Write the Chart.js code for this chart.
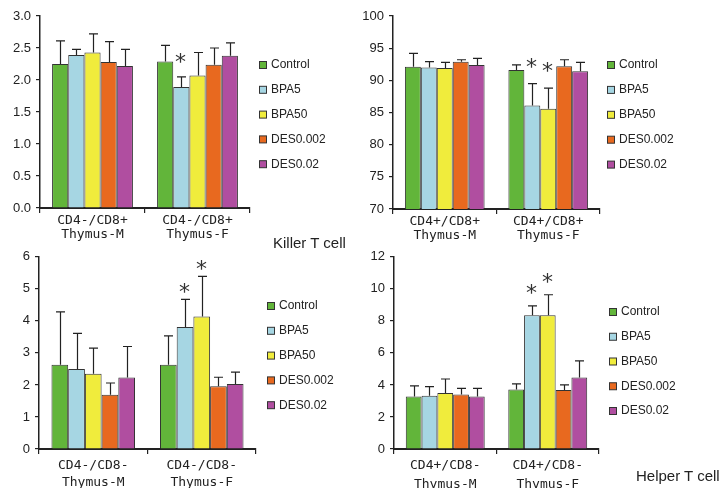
<!DOCTYPE html>
<html>
<head>
<meta charset="utf-8">
<script src="https://cdn.jsdelivr.net/npm/chart.js@4/dist/chart.umd.min.js"></script>
<style>
  body { margin: 0; background: #fff; }
  #wrap { position: relative; width: 724px; height: 488px; overflow: hidden; }
  #wrap canvas { position: absolute; }
  .cell { position: absolute; font: 15px 'Liberation Sans', Arial, sans-serif; color: #222; white-space: nowrap; }
</style>
</head>
<body>
<div id="wrap">
  <canvas id="c1" width="362" height="244" style="left:0;top:0"></canvas>
  <canvas id="c2" width="362" height="244" style="left:362px;top:0"></canvas>
  <canvas id="c3" width="362" height="244" style="left:0;top:244px"></canvas>
  <canvas id="c4" width="362" height="244" style="left:362px;top:244px"></canvas>
  <div class="cell" style="left:273px;top:234px">Killer T cell</div>
  <div class="cell" style="left:636px;top:467px">Helper T cell</div>
</div>
<script>
// treatment groups and their bar colours
const groups = ['Control', 'BPA5', 'BPA50', 'DES0.002', 'DES0.02'];
const groupColors = ['#62b53a', '#a6d6e3', '#f0ec3c', '#e8691f', '#b04ea0'];

// x categories for each panel
const catKillerNeg = [['CD4-/CD8+', 'Thymus-M'], ['CD4-/CD8+', 'Thymus-F']];
const catKillerPos = [['CD4+/CD8+', 'Thymus-M'], ['CD4+/CD8+', 'Thymus-F']];
const catHelperNeg = [['CD4-/CD8-', 'Thymus-M'], ['CD4-/CD8-', 'Thymus-F']];
const catHelperPos = [['CD4+/CD8-', 'Thymus-M'], ['CD4+/CD8-', 'Thymus-F']];

// means (one row per group: [Thymus-M, Thymus-F]), SDs and significance flags
const killerNegMean = [[2.25, 2.29], [2.39, 1.89], [2.43, 2.07], [2.28, 2.24], [2.22, 2.38]];
const killerNegSD   = [[0.36, 0.25], [0.09, 0.16], [0.29, 0.36], [0.32, 0.26], [0.26, 0.20]];
const killerNegSig  = [[0, 0], [0, 1], [0, 0], [0, 0], [0, 0]];

const killerPosMean = [[92.1, 91.6], [92.0, 86.1], [91.9, 85.6], [92.9, 92.2], [92.4, 91.4]];
const killerPosSD   = [[2.1, 0.8], [0.9, 3.4], [0.9, 3.2], [0.3, 1.0], [1.0, 1.4]];
const killerPosSig  = [[0, 0], [0, 1], [0, 1], [0, 0], [0, 0]];

const helperNegMean = [[2.63, 2.63], [2.50, 3.81], [2.35, 4.14], [1.69, 1.96], [2.23, 2.03]];
const helperNegSD   = [[1.65, 0.90], [1.11, 0.86], [0.80, 1.25], [0.37, 0.28], [0.97, 0.37]];
const helperNegSig  = [[0, 0], [0, 1], [0, 1], [0, 0], [0, 0]];

const helperPosMean = [[3.28, 3.71], [3.32, 8.35], [3.50, 8.35], [3.40, 3.69], [3.28, 4.47]];
const helperPosSD   = [[0.66, 0.35], [0.58, 0.58], [0.87, 1.28], [0.39, 0.31], [0.51, 1.03]];
const helperPosSig  = [[0, 0], [0, 1], [0, 1], [0, 0], [0, 0]];

// y tick ranges
const killerNegTicks = { min: 0, max: 3, step: 0.5, digits: 1 };
const killerPosTicks = { min: 70, max: 100, step: 5, digits: 0 };
const helperNegTicks = { min: 0, max: 6, step: 1, digits: 0 };
const helperPosTicks = { min: 0, max: 12, step: 2, digits: 0 };

Chart.defaults.font.family = "'Liberation Sans', Arial, sans-serif";
Chart.defaults.color = '#222';

// upper SD whiskers plus the asterisk for significant bars
const errorBars = {
  id: 'errorBars',
  afterDatasetsDraw(chart, args, opts) {
    const ctx = chart.ctx;
    const y = chart.scales.y;
    ctx.save();
    chart.data.datasets.forEach((ds, i) => {
      const meta = chart.getDatasetMeta(i);
      meta.data.forEach((bar, j) => {
        const top = y.getPixelForValue(ds.data[j] + ds.sd[j]);
        const x = Math.round(bar.x) + 0.5;
        ctx.strokeStyle = '#222';
        ctx.lineWidth = 1.2;
        ctx.beginPath();
        ctx.moveTo(x, bar.y);
        ctx.lineTo(x, top);
        ctx.moveTo(x - 4.5, top);
        ctx.lineTo(x + 4.5, top);
        ctx.stroke();
        if (ds.sig[j]) {
          ctx.fillStyle = '#333';
          ctx.font = "22px 'DejaVu Sans'";
          ctx.textAlign = 'center';
          ctx.textBaseline = 'alphabetic';
          // glyph sits high in the em box, so push the baseline down
          ctx.fillText('*', x - 1, top - opts.starGap + 10);
        }
      });
    });
    ctx.restore();
  }
};

// boxed legend at the right of each panel
const sideLegend = {
  id: 'sideLegend',
  afterDraw(chart, args, opts) {
    const ctx = chart.ctx;
    ctx.save();
    ctx.font = "12px 'Liberation Sans', Arial, sans-serif";
    ctx.textBaseline = 'middle';
    ctx.textAlign = 'left';
    chart.data.datasets.forEach((ds, i) => {
      const cy = opts.y + i * opts.step;
      ctx.fillStyle = ds.backgroundColor;
      ctx.fillRect(opts.x, cy - 3.5, 7, 7);
      ctx.strokeStyle = '#333';
      ctx.lineWidth = 1;
      ctx.strokeRect(opts.x + 0.5, cy - 3.5, 7, 7);
      ctx.fillStyle = '#222';
      ctx.fillText(ds.label, opts.x + 12, cy);
    });
    ctx.restore();
  }
};

function makePanel(id, labels, means, sds, sigs, t, lay) {
  new Chart(document.getElementById(id), {
    type: 'bar',
    data: {
      labels: labels,
      datasets: groups.map((g, k) => ({
        label: g,
        data: means[k],
        sd: sds[k],
        sig: sigs[k],
        backgroundColor: groupColors[k],
        borderColor: '#333',
        borderWidth: 1,
        barPercentage: 1,
        categoryPercentage: 0.77
      }))
    },
    options: {
      responsive: false,
      animation: false,
      devicePixelRatio: 1,
      layout: { padding: { left: 0, top: lay.top, right: lay.right, bottom: 0 } },
      plugins: {
        legend: { display: false },
        tooltip: { enabled: false },
        errorBars: { starGap: lay.starGap },
        sideLegend: { x: lay.legX, y: lay.legY, step: lay.legStep }
      },
      scales: {
        x: {
          offset: true,
          grid: { offset: true, drawOnChartArea: false, tickLength: 5, color: '#222', lineWidth: 1.2 },
          border: { color: '#222', width: 2 },
          ticks: {
            autoSkip: false,
            maxRotation: 0,
            padding: lay.xPad,
            color: '#222',
            font: { family: "'DejaVu Sans Mono', monospace", size: 13, lineHeight: lay.xLine }
          },
          afterFit: s => { s.height = lay.xHeight; }
        },
        y: {
          min: t.min,
          max: t.max,
          grid: { drawOnChartArea: false, tickLength: 4, color: '#222', lineWidth: 1.2 },
          border: { color: '#222', width: 1.5 },
          ticks: {
            stepSize: t.step,
            padding: 5,
            color: '#222',
            font: { size: 13 },
            callback: v => v.toFixed(t.digits)
          },
          afterFit: s => { s.width = lay.yWidth; }
        }
      }
    },
    plugins: [errorBars, sideLegend]
  });
}

makePanel('c1', catKillerNeg, killerNegMean, killerNegSD, killerNegSig, killerNegTicks,
  { top: 16, right: 112, yWidth: 40, xHeight: 36, xPad: 0, xLine: 1.1, starGap: 18, legX: 259, legY: 65, legStep: 24.8 });
makePanel('c2', catKillerPos, killerPosMean, killerPosSD, killerPosSig, killerPosTicks,
  { top: 16, right: 124, yWidth: 31, xHeight: 35, xPad: 0, xLine: 1.1, starGap: 20, legX: 245, legY: 65, legStep: 24.9 });
makePanel('c3', catHelperNeg, helperNegMean, helperNegSD, helperNegSig, helperNegTicks,
  { top: 11, right: 106, yWidth: 39, xHeight: 39, xPad: 3, xLine: 1.3, starGap: 10, legX: 267, legY: 62, legStep: 24.8 });
makePanel('c4', catHelperPos, helperPosMean, helperPosSD, helperPosSig, helperPosTicks,
  { top: 11, right: 125, yWidth: 32, xHeight: 39, xPad: 3, xLine: 1.4, starGap: 16, legX: 247, legY: 68, legStep: 24.75 });
</script>
</body>
</html>
